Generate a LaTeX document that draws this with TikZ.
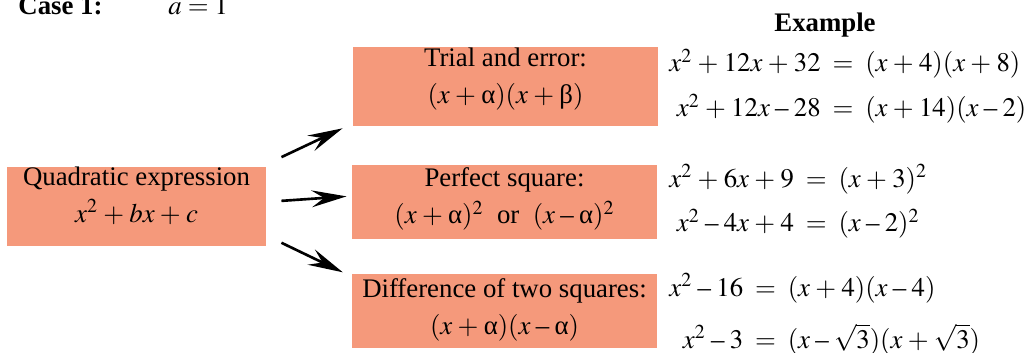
\documentclass[tikz,border=0pt]{standalone}
\usepackage{mathptmx}
\usepackage{fontspec}
\setmainfont{Liberation Serif}
\usetikzlibrary{arrows.meta}
\definecolor{salmon}{RGB}{245,153,123}
\newcommand{\ga}{\textrm{α}}
\newcommand{\gb}{\textrm{β}}
\newcommand{\pl}{\mathbin{\kern0.7pt+\kern0.7pt}}
\newcommand{\mi}{\mathbin{\kern0.7pt\textrm{–}\kern0.7pt}}
\begin{document}
\begin{tikzpicture}[every node/.style={font=\fontsize{12.2}{16.8}\selectfont},
    box/.style={fill=salmon, inner sep=0pt, minimum width=4.88cm, minimum height=1.184cm},
    boxtext/.style={anchor=north, align=center, inner sep=0pt},
    eqs/.style={anchor=base west, inner sep=0pt},
    arrow/.style={-{Stealth[length=0.56cm, width=0.27cm, inset=0.2cm]}, line width=1.2pt}]
    \useasboundingbox (0,0) rectangle (16.4,-5.648);
    \node[anchor=base west, inner sep=0pt, font=\fontsize{12.2}{16.8}\selectfont\bfseries] (case) at (0.288,-0.24) {Case 1:};
    \node[anchor=base west, inner sep=0pt] (caseval) at (2.688,-0.24) {$a=1$};
    \node[anchor=base, inner sep=0pt, font=\fontsize{12.2}{16.8}\selectfont\bfseries] (example) at (13.2,-0.512) {Example};
    % boxes
    \node[box, minimum width=4.144cm, minimum height=1.264cm] (quad) at (2.184,-3.304) {};
    \node[box, minimum height=1.264cm] (trial) at (8.088,-1.384) {};
    \node[box] (square) at (8.072,-3.232) {};
    \node[box] (diff) at (8.072,-4.976) {};
    \node[boxtext] (quadtext) at ([yshift=0cm]quad.north) {Quadratic expression\\ $x^2\pl bx\pl c$};
    \node[boxtext] (trialtext) at ([yshift=-0.02cm]trial.north) {Trial and error:\\ $(x\pl\ga)(x\pl\gb)$};
    \node[boxtext] (squaretext) at ([yshift=-0.05cm]square.north) {Perfect square:\\ $(x\pl\ga)^2$\ \ or\ \ $(x\mi\ga)^2$};
    \node[boxtext] (difftext) at ([yshift=-0.07cm]diff.north) {Difference of two squares:\\ $(x\pl\ga)(x\mi\ga)$};
    % arrows
    \draw[arrow] ([shift={(0.24,0.79)}]quad.east) -- ([shift={(-0.16,-0.03)}]trial.south west);
    \draw[arrow] ([shift={(0.24,0.09)}]quad.east) -- ([shift={(-0.08,0.09)}]square.west);
    \draw[arrow] ([shift={(0.24,-0.58)}]quad.east) -- ([shift={(-0.14,0.02)}]diff.north west);
    % examples
    \node[eqs] (ex1) at (10.704,-1.152) {$\begin{array}[t]{@{}r@{\;\;=\;\;}l@{}}
        x^2\pl12x\pl32 & (x\pl4)(x\pl8)\\[3.6pt]
        x^2\pl12x\mi28 & (x\pl14)(x\mi2)
    \end{array}$};
    \node[eqs] (ex2) at (10.704,-2.992) {$\begin{array}[t]{@{}r@{\;\;=\;\;}l@{}}
        x^2\pl6x\pl9 & (x\pl3)^2\\[3.6pt]
        x^2\mi4x\pl4 & (x\mi2)^2
    \end{array}$};
    \node[eqs] (ex3) at (10.704,-4.736) {$\begin{array}[t]{@{}r@{\;\;=\;\;}l@{}}
        x^2\mi16 & (x\pl4)(x\mi4)\\[7pt]
        x^2\mi3 & (x\mi\sqrt{3})(x\pl\sqrt{3})
    \end{array}$};
\end{tikzpicture}
\end{document}
